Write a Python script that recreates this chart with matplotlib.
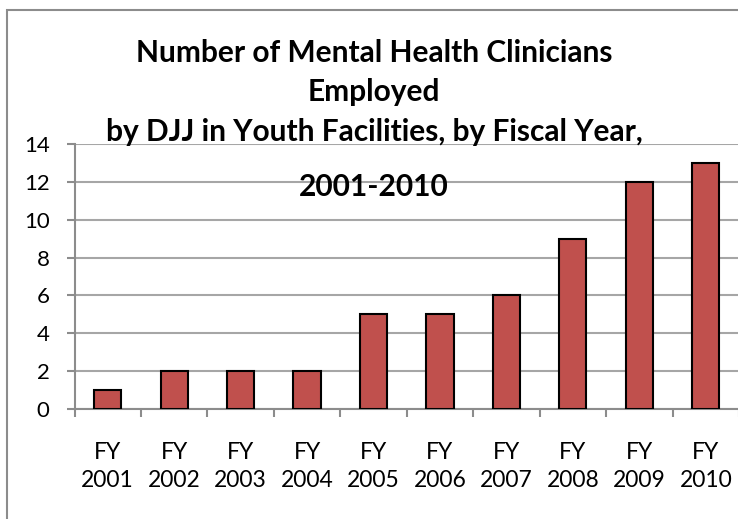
import matplotlib.pyplot as plt
from matplotlib.patches import Rectangle
import numpy as np

# Data
years = ['FY\n2001', 'FY\n2002', 'FY\n2003', 'FY\n2004', 'FY\n2005',
         'FY\n2006', 'FY\n2007', 'FY\n2008', 'FY\n2009', 'FY\n2010']
clinicians = [1, 2, 2, 2, 5, 5, 6, 9, 12, 13]
title_lines = ['Number of Mental Health Clinicians', 'Employed',
               'by DJJ in Youth Facilities, by Fiscal Year,']
title_last = '2001-2010'

W, H = 738, 519
plt.rcParams['font.family'] = ['Lato', 'DejaVu Sans']

fig = plt.figure(figsize=(W / 100, H / 100), dpi=100)

# outer chart frame (runs off the right and bottom edges)
fig.patches.append(Rectangle((7 / W, -0.05), 1.1, (H - 10) / H + 0.05,
                             transform=fig.transFigure, fill=False,
                             edgecolor='#8c8c8c', linewidth=1.5))

ax = fig.add_axes([74.5 / W, (H - 409) / H, (739 - 74.5) / W, (409 - 144) / H])
x = np.arange(len(years))
ax.bar(x, clinicians, width=0.41, color='#C0504D', edgecolor='black',
       linewidth=1.5, zorder=3)

ax.set_xlim(-0.5, len(years) - 0.5)
ax.set_ylim(0, 14)
ax.set_yticks(range(0, 15, 2))
ax.yaxis.grid(True, color='#a6a6a6', linewidth=1.5, zorder=0)
ax.set_xticks(x)
ax.set_xticklabels(years, fontsize=16.5, linespacing=1.4)
ax.set_xticks(np.arange(-0.5, len(years), 1), minor=True)
ax.tick_params(axis='x', which='major', length=0, pad=24)
ax.tick_params(axis='x', which='minor', length=6, width=1.5, color='#8c8c8c')
ax.tick_params(axis='y', length=6, width=1.5, color='#8c8c8c', labelsize=16, pad=12)

for side in ['top', 'right']:
    ax.spines[side].set_visible(False)
for side in ['left', 'bottom']:
    ax.spines[side].set_color('#8c8c8c')
    ax.spines[side].set_linewidth(1.5)

for i, line in enumerate(title_lines):
    fig.text(374 / W, 1 - (53 + 39.5 * i) / H, line, ha='center', va='center',
             fontsize=21.5, fontweight='bold')
fig.text(374 / W, 1 - 187 / H, title_last, ha='center', va='center',
         fontsize=21.5, fontweight='bold')

fig.savefig('out.png', dpi=100)
